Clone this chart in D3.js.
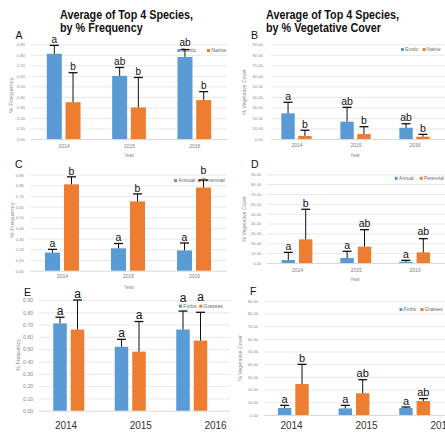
<!DOCTYPE html>
<html>
<head>
<meta charset="utf-8">
<script src="https://cdn.jsdelivr.net/npm/d3@7"></script>
<style>
  body { margin: 0; background: #fff; }
  svg { display: block; }
</style>
</head>
<body>
<svg id="fig" width="445" height="438"></svg>
<script>
const years = ["2014", "2015", "2016"];
const freqTicks = [0, 0.1, 0.2, 0.3, 0.4, 0.5, 0.6, 0.7, 0.8, 0.9];
const coverTicks = [0, 10, 20, 30, 40, 50, 60, 70, 80, 90];

// A: % frequency, exotic vs native
const freqExotic = [0.81, 0.60, 0.78];
const freqExoticErr = [0.08, 0.08, 0.07];
const freqNative = [0.35, 0.30, 0.37];
const freqNativeErr = [0.28, 0.285, 0.08];
const freqOriginLetters = [["a", "b"], ["ab", "b"], ["ab", "b"]];

// B: % vegetative cover, exotic vs native
const coverExotic = [24.4, 16.5, 10.7];
const coverExoticErr = [10.5, 13.6, 3.8];
const coverNative = [2.9, 4.8, 2.2];
const coverNativeErr = [5.4, 6.9, 2.2];
const coverOriginLetters = [["a", "b"], ["ab", "b"], ["ab", "b"]];

// C: % frequency, annual vs perennial
const freqAnnual = [0.17, 0.21, 0.19];
const freqAnnualErr = [0.03, 0.045, 0.07];
const freqPerennial = [0.81, 0.65, 0.78];
const freqPerennialErr = [0.07, 0.07, 0.07];
const freqLifeLetters = [["a", "b"], ["a", "b"], ["a", "b"]];

// D: % vegetative cover, annual vs perennial
const coverAnnual = [3.0, 5.1, 1.3];
const coverAnnualErr = [7.8, 6.8, 1.4];
const coverPerennial = [24.0, 16.6, 10.8];
const coverPerennialErr = [30.5, 17.2, 13.9];
const coverLifeLetters = [["a", "b"], ["a", "ab"], ["a", "ab"]];

// E: % frequency, forbs vs grasses
const freqForbs = [0.71, 0.52, 0.66];
const freqForbsErr = [0.05, 0.06, 0.15];
const freqGrasses = [0.66, 0.48, 0.57];
const freqGrassesErr = [0.24, 0.245, 0.23];
const freqFormLetters = [["a", "a"], ["a", "a"], ["a", "a"]];

// F: % vegetative cover, forbs vs grasses
const coverForbs = [5.5, 5.2, 5.5];
const coverForbsErr = [2.1, 2.4, 0.8];
const coverGrasses = [24.4, 17.1, 11.0];
const coverGrassesErr = [15.5, 10.7, 1.9];
const coverFormLetters = [["a", "b"], ["a", "ab"], ["a", "ab"]];

const BLUE = "#5b9bd5", ORANGE = "#ed7d31";
const FONT = "'Liberation Sans', Arial, sans-serif";

const svg = d3.select("#fig");
svg.append("rect").attr("width", 445).attr("height", 438).attr("fill", "#fff");

// Layout per panel; letterRaise lifts selected significance letters clear of the legend
const panels = [
  { tag: "A", tagPos: [15.5, 38.5], ticks: freqTicks, fmt: d3.format(".2f"), yTitle: "% Frequency",
    series: [["Exotic", freqExotic, freqExoticErr], ["Native", freqNative, freqNativeErr]], letters: freqOriginLetters,
    xr: [31, 227], grid: [31, 227], y0: 139, y1: 44.3, bw: 15, gap: 3.7,
    tickRight: 25, tickFont: 4.3, yTitlePos: [11, 95], yTitleFont: 6,
    legend: [[177.5, 50.5], [207, 50.5]], legendFont: 5.3,
    xLab: { range: null, y: 146, font: 5, color: "#808080" }, yearPos: [129, 157], yearFont: 5, letterFont: 10,
    letterRaise: [[0, 0], [0, 0], [1.2, 0]] },
  { tag: "B", tagPos: [251, 39], ticks: coverTicks, fmt: d3.format(".2f"), yTitle: "% Vegetative Cover",
    series: [["Exotic", coverExotic, coverExoticErr], ["Native", coverNative, coverNativeErr]], letters: coverOriginLetters,
    xr: [267, 444], grid: [271, 445], y0: 139, y1: 44.3, bw: 13.4, gap: 3.5,
    tickRight: 262.7, tickFont: 4.1, yTitlePos: [243.7, 92], yTitleFont: 5.2,
    legend: [[401, 49.5], [422.7, 49.5]], legendFont: 4.8,
    xLab: { range: null, y: 145.7, font: 5, color: "#808080" }, yearPos: [355, 157], yearFont: 5, letterFont: 10.5,
    letterRaise: [[0, 0], [0, 0], [0, 0]] },
  { tag: "C", tagPos: [15, 168], ticks: freqTicks, fmt: d3.format(".2f"), yTitle: "% Frequency",
    series: [["Annual", freqAnnual, freqAnnualErr], ["Perennial", freqPerennial, freqPerennialErr]], letters: freqLifeLetters,
    xr: [29, 227], grid: [30, 227], y0: 270.7, y1: 174.7, bw: 15, gap: 4,
    tickRight: 24, tickFont: 4.3, yTitlePos: [11.7, 220], yTitleFont: 6,
    legend: [[174, 180.5], [197.7, 180.5]], legendFont: 5.4,
    xLab: { range: null, y: 276.7, font: 5, color: "#808080" }, yearPos: [129, 288.5], yearFont: 5, letterFont: 10.5,
    letterRaise: [[0, 0], [0, 0], [0, 4]] },
  { tag: "D", tagPos: [251, 168], ticks: coverTicks, fmt: d3.format(".2f"), yTitle: "% Vegetative Cover",
    series: [["Annual", coverAnnual, coverAnnualErr], ["Perennial", coverPerennial, coverPerennialErr]], letters: coverLifeLetters,
    xr: [267.6, 444], grid: [267, 445], y0: 263, y1: 174.3, bw: 13.4, gap: 4,
    tickRight: 261.3, tickFont: 4.1, yTitlePos: [243.7, 219], yTitleFont: 5.2,
    legend: [[394.7, 178.3], [419.7, 178.3]], legendFont: 4.7,
    xLab: { range: null, y: 270, font: 5, color: "#808080" }, yearPos: [355, 281], yearFont: 5, letterFont: 10.5,
    letterRaise: [[0, 0], [0, 0], [0, 1]] },
  { tag: "E", tagPos: [24, 296], ticks: freqTicks, fmt: d3.format(".2f"), yTitle: "% Frequency",
    series: [["Forbs", freqForbs, freqForbsErr], ["Grasses", freqGrasses, freqGrassesErr]], letters: freqFormLetters,
    xr: [38, 222.5], grid: [39, 230], y0: 410.7, y1: 300, bw: 13.5, gap: 4,
    tickRight: 33.3, tickFont: 5.3, yTitlePos: [17.7, 355], yTitleFont: 5.4,
    legend: [[179, 306.2], [199.3, 306.2]], legendFont: 5.2,
    xLab: { range: [65.5, 215], y: 425, font: 10, color: "#333" }, yearPos: [127, 445], yearFont: 9, letterFont: 12,
    letterRaise: [[0, 0], [0, 0], [7, 9]] },
  { tag: "F", tagPos: [250, 295], ticks: coverTicks, fmt: d3.format(".2f"), yTitle: "% Vegetative Cover",
    series: [["Forbs", coverForbs, coverForbsErr], ["Grasses", coverGrasses, coverGrassesErr]], letters: coverFormLetters,
    xr: [263, 445], grid: [263.7, 445], y0: 415, y1: 300.7, bw: 13.4, gap: 4,
    tickRight: 258, tickFont: 4.1, yTitlePos: [240.3, 358], yTitleFont: 5.2,
    legend: [[399.5, 309.5], [420.5, 309.5]], legendFont: 4.8,
    xLab: { range: [291, 441], y: 425.7, font: 10, color: "#333" }, yearPos: [354, 445], yearFont: 9, letterFont: 11,
    letterRaise: [[0, 0], [0, 0], [0, 0]] }
];

const colors = [BLUE, ORANGE];

function drawPanel(p) {
  const g = svg.append("g");
  const max = p.ticks[p.ticks.length - 1];
  const y = d3.scaleLinear().domain([0, max]).range([p.y0, p.y1]);
  const x = d3.scaleBand().domain(years).range(p.xr);
  const inner = d3.scaleBand().domain([0, 1])
    .range([-(p.bw + p.gap / 2), p.bw + p.gap / 2])
    .paddingInner(p.gap / (p.bw + p.gap));

  // horizontal gridlines
  const grid = g.append("g").attr("transform", `translate(${p.grid[0]},0)`)
    .call(d3.axisRight(y).tickValues(p.ticks).tickSize(p.grid[1] - p.grid[0]).tickFormat(""));
  grid.select(".domain").remove();
  grid.selectAll(".tick line")
    .attr("stroke", d => d === 0 ? "#cfcfcf" : "#e3e3e3")
    .attr("stroke-width", 0.8);

  // y tick labels
  const ya = g.append("g").attr("transform", `translate(${p.tickRight},0)`)
    .call(d3.axisLeft(y).tickValues(p.ticks).tickFormat(p.fmt).tickSize(0).tickPadding(0));
  ya.select(".domain").remove();
  ya.attr("font-family", FONT).attr("font-size", p.tickFont);
  ya.selectAll("text").attr("fill", "#8a8a8a");

  // x tick labels
  const labScale = p.xLab.range
    ? d3.scalePoint().domain(years).range(p.xLab.range)
    : d3.scalePoint().domain(years).range([x(years[0]) + x.bandwidth() / 2, x(years[2]) + x.bandwidth() / 2]);
  const xa = g.append("g").attr("transform", `translate(0,${p.xLab.y})`)
    .call(d3.axisBottom(labScale).tickSize(0).tickPadding(0));
  xa.select(".domain").remove();
  xa.attr("font-family", FONT).attr("font-size", p.xLab.font);
  xa.selectAll("text").attr("fill", p.xLab.color).attr("y", 0).attr("dy", "0.35em");

  // axis titles
  g.append("text")
    .attr("transform", `translate(${p.yTitlePos[0]},${p.yTitlePos[1]}) rotate(-90)`)
    .attr("text-anchor", "middle").attr("dy", "0.35em")
    .attr("font-family", FONT).attr("font-size", p.yTitleFont).attr("fill", "#8a8a8a")
    .text(p.yTitle);
  g.append("text")
    .attr("x", p.yearPos[0]).attr("y", p.yearPos[1])
    .attr("text-anchor", "middle")
    .attr("font-family", FONT).attr("font-size", p.yearFont)
    .attr("fill", p.xLab.range ? "#404040" : "#8a8a8a")
    .text("Year");

  // panel tag
  g.append("text").attr("x", p.tagPos[0]).attr("y", p.tagPos[1])
    .attr("font-family", FONT).attr("font-size", 10.5).attr("fill", "#111")
    .text(p.tag);

  // legend
  p.series.forEach((s, i) => {
    const [lx, ly] = p.legend[i];
    g.append("rect").attr("x", lx).attr("y", ly - 1.5).attr("width", 3).attr("height", 3).attr("fill", colors[i]);
    g.append("text").attr("x", lx + 4.3).attr("y", ly).attr("dy", "0.35em")
      .attr("font-family", FONT).attr("font-size", p.legendFont).attr("fill", "#6b6b6b")
      .text(s[0]);
  });

  // bars, error bars and letters
  p.series.forEach((s, i) => {
    const vals = s[1], errs = s[2];
    const rows = years.map((yr, k) => ({ yr, v: vals[k], e: errs[k], letter: p.letters[k][i], raise: p.letterRaise[k][i] }));
    const cx = d => x(d.yr) + x.bandwidth() / 2 + inner(i) + inner.bandwidth() / 2;

    g.append("g").selectAll("rect").data(rows).join("rect")
      .attr("x", d => x(d.yr) + x.bandwidth() / 2 + inner(i))
      .attr("width", inner.bandwidth())
      .attr("y", d => y(d.v))
      .attr("height", d => y(0) - y(d.v))
      .attr("fill", colors[i]);

    const eb = g.append("g").attr("stroke", "#111");
    eb.selectAll("line.stem").data(rows).join("line").attr("class", "stem")
      .attr("x1", cx).attr("x2", cx)
      .attr("y1", d => y(d.v)).attr("y2", d => y(d.v + d.e))
      .attr("stroke-width", 1);
    eb.selectAll("line.cap").data(rows).join("line").attr("class", "cap")
      .attr("x1", d => cx(d) - 4.5).attr("x2", d => cx(d) + 4.5)
      .attr("y1", d => y(d.v + d.e)).attr("y2", d => y(d.v + d.e))
      .attr("stroke-width", 1.3);

    g.append("g").selectAll("text").data(rows).join("text")
      .attr("x", cx).attr("y", d => y(d.v + d.e) - 2.3 - d.raise)
      .attr("text-anchor", "middle")
      .attr("font-family", FONT).attr("font-size", p.letterFont).attr("fill", "#111")
      .text(d => d.letter);
  });
}

panels.forEach(drawPanel);

// chart titles over the two columns
const titles = [
  [60, ["Average of Top 4 Species,", "by % Frequency"]],
  [266, ["Average of Top 4 Species,", "by % Vegetative Cover"]]
];
titles.forEach(([tx, lines]) => {
  const tg = svg.append("g").attr("transform", `translate(${tx},0) scale(0.83,1)`);
  lines.forEach((line, i) => {
    tg.append("text").attr("x", 0).attr("y", 19 + i * 12.7)
      .attr("font-family", FONT).attr("font-weight", "bold").attr("font-size", 13).attr("fill", "#111")
      .text(line);
  });
});
</script>
</body>
</html>
